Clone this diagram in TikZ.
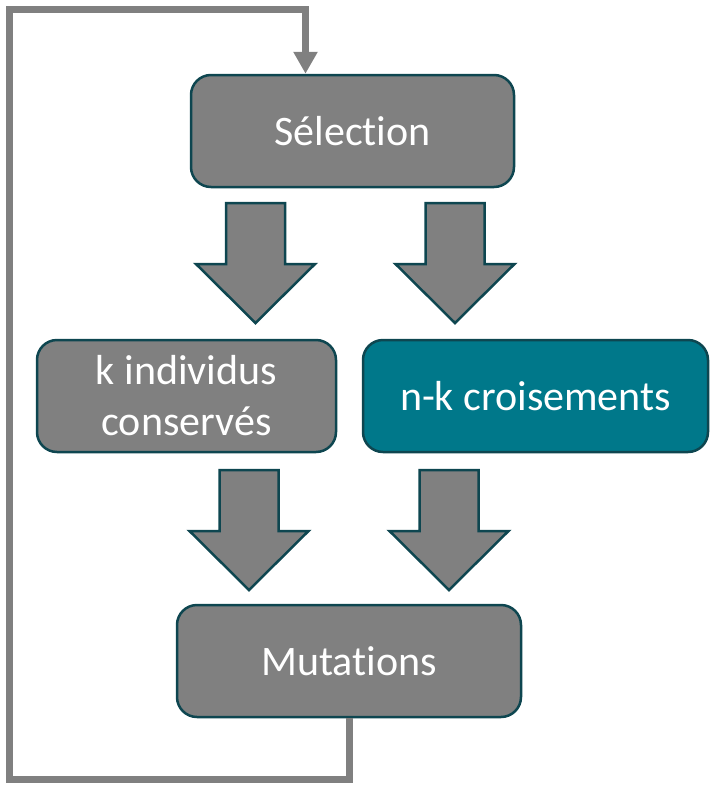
\documentclass[tikz,border=0pt]{standalone}
\usepackage{fontspec}
\setmainfont{Carlito}[Ligatures={NoCommon}]
\usetikzlibrary{arrows.meta,calc}
\definecolor{boxgray}{HTML}{808080}
\definecolor{edge}{HTML}{0E4650}
\definecolor{tealfill}{HTML}{00788A}
\definecolor{loopgray}{HTML}{808080}
\tikzset{
  box/.style={draw=edge, line width=2.5pt, fill=boxgray, rounded corners=20pt,
    text=white, align=center, inner sep=0pt,
    font=\fontsize{42pt}{51pt}\selectfont, minimum height=112pt},
  tealbox/.style={box, fill=tealfill},
  fb/.style={draw=loopgray, line width=7pt, -{Triangle[width=23pt,length=22pt]}},
  blockarrow/.pic={
    \draw[edge, line width=2.5pt, fill=boxgray, line join=miter]
      (-29.5,0) -- (29.5,0) -- (29.5,61) -- (59.5,61) -- (0,120)
      -- (-59.5,61) -- (-29.5,61) -- cycle;
  }
}
\begin{document}
\begin{tikzpicture}[x=1pt,y=-1pt]
\useasboundingbox (0,0) rectangle (712,785);
\node[box, minimum width=323pt] (sel) at (352.5,131) {Sélection};
\node[box, minimum width=299pt] (keep) at (186.5,396) {k individus\\conservés};
\node[tealbox, minimum width=345pt] (cross) at (535.5,396) {n-k croisements};
\node[box, minimum width=344pt] (mut) at (349,661) {Mutations};
\pic at (255.5,203) {blockarrow};
\pic at (455,203) {blockarrow};
\pic at (249,470) {blockarrow};
\pic at (449,470) {blockarrow};
\coordinate (c1) at (9,779);
\coordinate (c2) at (9,9.5);
\coordinate (c3) at (305.5,9.5);
\draw[fb] (mut.south) |- (c1) -- (c2) -- (c3) -- (sel.north -| c3);
\end{tikzpicture}
\end{document}
